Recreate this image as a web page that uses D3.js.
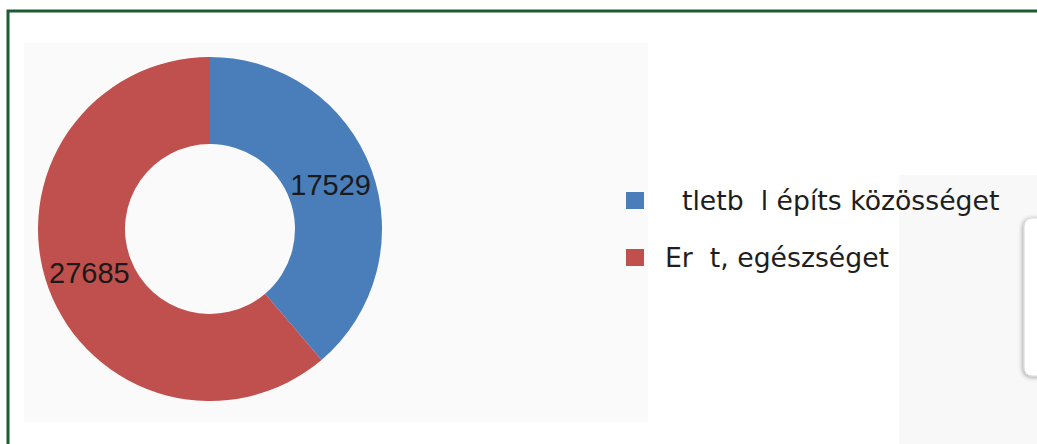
<!DOCTYPE html>
<html>
<head>
<meta charset="utf-8">
<script src="https://d3js.org/d3.v7.min.js"></script>
<style>
  body { margin: 0; background: #fff; }
</style>
</head>
<body>
<script>
"use strict"

// data
var categories = ["\u00a0\u00a0tletb\u00a0\u00a0l építs közösséget", "Er\u00a0\u00a0t, egészséget"];
var values = [17529, 27685];
var colors = ["#4a7ebb", "#c0504d"];

var width = 1037, height = 444;

var svg = d3.select("body").append("svg")
                           .attr("width", width)
                           .attr("height", height);

// lighter panel behind on the right
svg.append("rect").attr("x", 899).attr("y", 175)
                  .attr("width", 140).attr("height", 280)
                  .attr("fill", "#f8f8f8");

// the cut-off box with shadow on the far right
var defs = svg.append("defs");
var f = defs.append("filter").attr("id", "shadow")
            .attr("x", "-20%").attr("y", "-20%").attr("width", "140%").attr("height", "140%");
f.append("feDropShadow").attr("dx", -1).attr("dy", 1).attr("stdDeviation", 2)
 .attr("flood-color", "#000").attr("flood-opacity", 0.35);

svg.append("rect").attr("x", 1024).attr("y", 218)
                  .attr("width", 60).attr("height", 158)
                  .attr("rx", 8)
                  .attr("fill", "#fff")
                  .attr("stroke", "#d8d8d8")
                  .attr("filter", "url(#shadow)");

// green frame
svg.append("rect").attr("x", 8).attr("y", 11)
                  .attr("width", 1060).attr("height", 460)
                  .attr("fill", "none")
                  .attr("stroke", "#1d5c32")
                  .attr("stroke-width", 3);

// chart area
svg.append("rect").attr("x", 24).attr("y", 43)
                  .attr("width", 624).attr("height", 379)
                  .attr("fill", "#fafafa");

var cx = 210, cy = 229, outerR = 172, innerR = 85;

var pie = d3.pie().sort(null).value(function(d) { return d; });
var arc = d3.arc().innerRadius(innerR).outerRadius(outerR);

var g = svg.append("g").attr("transform", "translate(" + cx + "," + cy + ")");

var arcs = pie(values);

g.selectAll("path").data(arcs).enter().append("path")
 .attr("d", arc)
 .attr("fill", function(d, i) { return colors[i]; });

g.selectAll("text").data(arcs).enter().append("text")
 .attr("transform", function(d) { return "translate(" + arc.centroid(d) + ")"; })
 .attr("text-anchor", "middle")
 .attr("dominant-baseline", "central")
 .attr("font-family", "Liberation Sans, Arial, sans-serif")
 .attr("font-size", 29)
 .attr("fill", "#1a1a1a")
 .text(function(d) { return d.data; });

// legend
var legend = svg.append("g").attr("transform", "translate(626,200)");
var item = legend.selectAll("g").data(categories).enter().append("g")
                 .attr("transform", function(d, i) { return "translate(0," + (i * 57) + ")"; });

item.append("rect").attr("x", 0).attr("y", -8)
    .attr("width", 18).attr("height", 17)
    .attr("fill", function(d, i) { return colors[i]; });

item.append("text").attr("x", 39).attr("y", 0)
    .attr("dominant-baseline", "central")
    .attr("font-family", "'DejaVu Sans', Verdana, sans-serif")
    .attr("font-size", 26.7)
    .attr("fill", "#1e1e1e")
    .text(function(d) { return d; });
</script>
</body>
</html>
